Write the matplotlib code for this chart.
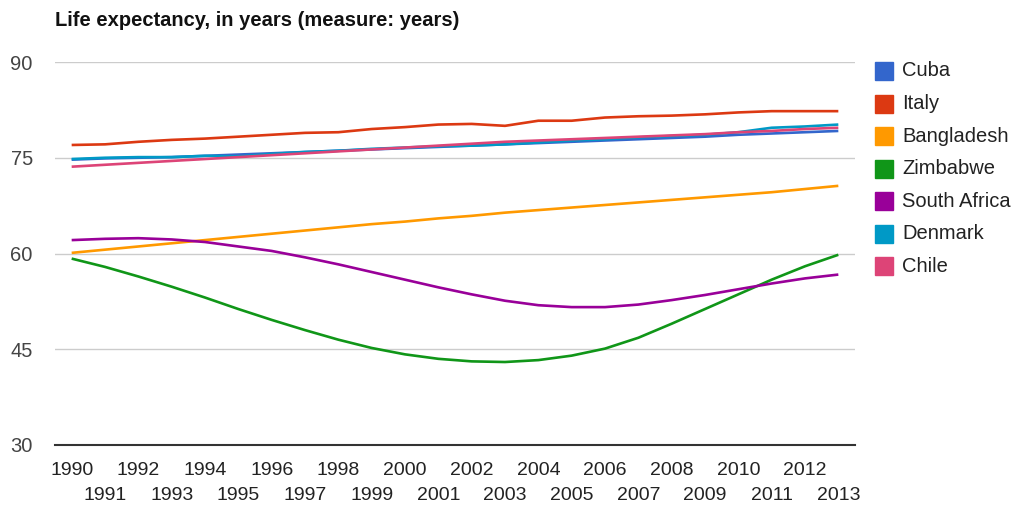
import matplotlib
matplotlib.use("Agg")
import matplotlib.pyplot as plt
from matplotlib.patches import Rectangle

plt.rcParams['font.family'] = ['Liberation Sans', 'DejaVu Sans']

years = list(range(1990, 2014))

cuba = [74.7, 74.9, 75.0, 75.1, 75.3, 75.5, 75.7, 75.9, 76.1, 76.3, 76.5, 76.7,
        76.9, 77.1, 77.3, 77.5, 77.7, 77.9, 78.1, 78.3, 78.6, 78.8, 79.0, 79.2]
italy = [77.0, 77.1, 77.5, 77.8, 78.0, 78.3, 78.6, 78.9, 79.0, 79.5, 79.8, 80.2,
         80.3, 80.0, 80.8, 80.8, 81.3, 81.5, 81.6, 81.8, 82.1, 82.3, 82.3, 82.3]
bangladesh = [60.1, 60.6, 61.1, 61.6, 62.1, 62.6, 63.1, 63.6, 64.1, 64.6, 65.0, 65.5,
              65.9, 66.4, 66.8, 67.2, 67.6, 68.0, 68.4, 68.8, 69.2, 69.6, 70.1, 70.6]
zimbabwe = [59.2, 57.9, 56.4, 54.8, 53.1, 51.3, 49.6, 48.0, 46.5, 45.2, 44.2, 43.5,
            43.1, 43.0, 43.3, 44.0, 45.1, 46.8, 49.0, 51.3, 53.6, 55.9, 58.0, 59.8]
south_africa = [62.1, 62.3, 62.4, 62.2, 61.8, 61.1, 60.4, 59.4, 58.3, 57.1, 55.9, 54.7,
                53.6, 52.6, 51.9, 51.6, 51.6, 52.0, 52.7, 53.5, 54.4, 55.3, 56.1, 56.7]
denmark = [74.8, 75.0, 75.1, 75.1, 75.3, 75.2, 75.6, 75.9, 76.1, 76.4, 76.6, 76.8,
           76.9, 77.1, 77.4, 77.7, 77.9, 78.2, 78.4, 78.6, 79.0, 79.7, 79.9, 80.2]
chile = [73.6, 73.9, 74.2, 74.5, 74.8, 75.1, 75.4, 75.7, 76.0, 76.3, 76.6, 76.9,
         77.2, 77.5, 77.7, 77.9, 78.1, 78.3, 78.5, 78.7, 79.0, 79.2, 79.5, 79.7]

countries = ["Cuba", "Italy", "Bangladesh", "Zimbabwe", "South Africa", "Denmark", "Chile"]
series = [cuba, italy, bangladesh, zimbabwe, south_africa, denmark, chile]
colors = ["#3366cc", "#dc3912", "#ff9900", "#109618", "#990099", "#0099c6", "#dd4477"]

y_ticks = [30, 45, 60, 75, 90]

W, H = 1016, 509
fig = plt.figure(figsize=(W / 100, H / 100), dpi=100)
ax = fig.add_axes([55 / W, 1 - 445 / H, 800 / W, 383 / H])

for vals, col in zip(series, colors):
    ax.plot(years, vals, color=col, lw=1.9, solid_capstyle='butt')

ax.set_xlim(1989.5, 2013.5)
ax.set_ylim(30, 90)

# gridlines and baseline
for t in y_ticks[1:]:
    ax.axhline(t, color="#cccccc", lw=1, zorder=0)
ax.axhline(30, color="#333333", lw=1.5, zorder=3, clip_on=False)

for s in ax.spines.values():
    s.set_visible(False)

ax.set_yticks(y_ticks)
ax.set_yticklabels([str(t) for t in y_ticks])
ax.tick_params(axis='y', length=0, pad=16, labelsize=14.5, labelcolor="#444444")

# even years on the first row, odd years on the second
even_years = [y for y in years if y % 2 == 0]
odd_years = [y for y in years if y % 2 == 1]
ax.set_xticks(even_years)
ax.set_xticklabels([str(y) for y in even_years])
ax.set_xticks(odd_years, minor=True)
ax.set_xticklabels([str(y) for y in odd_years], minor=True)
ax.tick_params(axis='x', which='major', length=0, pad=12.5, labelsize=14, labelcolor="#222222")
ax.tick_params(axis='x', which='minor', length=0, pad=30.5, labelsize=14, labelcolor="#222222")

fig.text(55 / W, 1 - 20 / H, "Life expectancy, in years (measure: years)",
         fontsize=14.5, fontweight='bold', color="#111111", va='center', ha='left')

# legend
for i, (name, col) in enumerate(zip(countries, colors)):
    yc = 71 + i * 32.5
    fig.add_artist(Rectangle((875 / W, 1 - (yc + 9) / H), 18 / W, 18 / H,
                             transform=fig.transFigure, color=col))
    fig.text(902 / W, 1 - yc / H, name, fontsize=14.5, color="#222222",
             va='center', ha='left')

fig.savefig("out.png", dpi=100, facecolor="white")
